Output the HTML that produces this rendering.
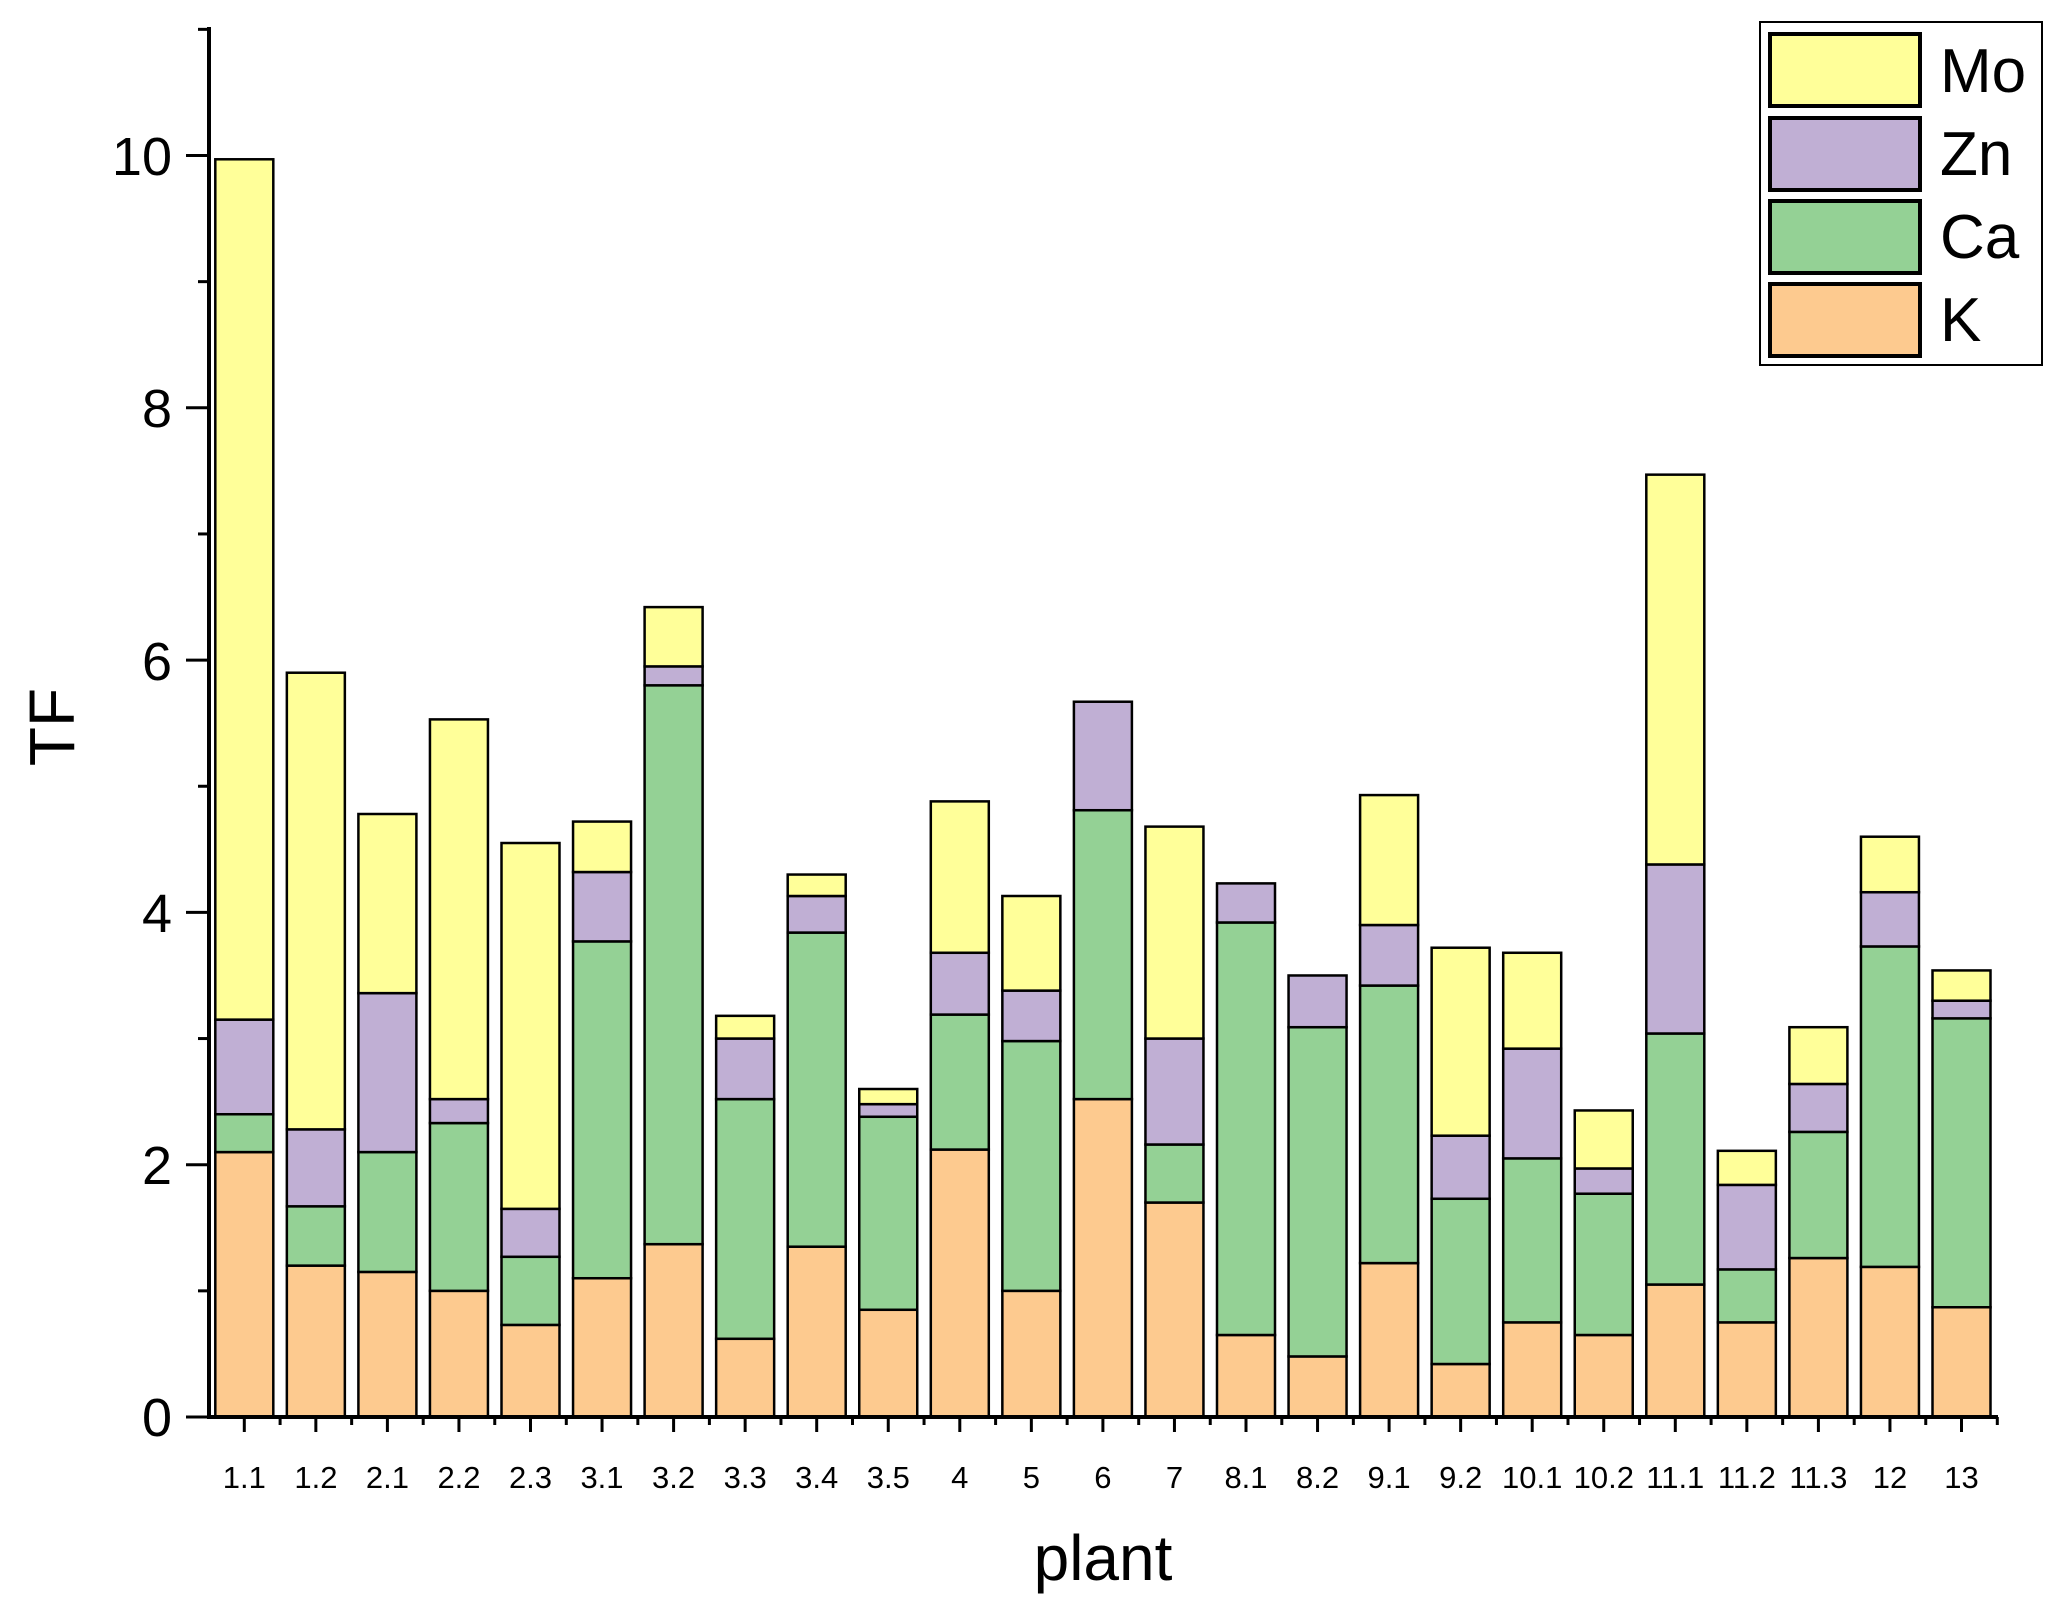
<!DOCTYPE html>
<html><head><meta charset="utf-8"><style>
body{margin:0;background:#fff}
svg{display:block}
text{font-family:"Liberation Sans",Arial,sans-serif;fill:#000}
</style></head><body>
<svg id="s" width="2071" height="1615" viewBox="0 0 2071 1615" xmlns="http://www.w3.org/2000/svg">
<g id="bars"></g>
<g id="axes" stroke="#000" stroke-width="4" fill="none">
<line x1="209" y1="27" x2="209" y2="1419"/>
<line x1="207" y1="1417" x2="1998" y2="1417"/>
</g>
<g id="ticks" stroke="#000" stroke-width="3"></g>
<g font-size="54" text-anchor="end">
<text x="172" y="1436">0</text>
<text x="172" y="1184">2</text>
<text x="172" y="932">4</text>
<text x="172" y="680">6</text>
<text x="172" y="427">8</text>
<text x="172" y="175">10</text>
</g>
<g font-size="31" text-anchor="middle">
<text x="244.3" y="1488">1.1</text><text x="315.9" y="1488">1.2</text><text x="387.4" y="1488">2.1</text><text x="459" y="1488">2.2</text><text x="530.5" y="1488">2.3</text><text x="602" y="1488">3.1</text><text x="673.6" y="1488">3.2</text><text x="745.2" y="1488">3.3</text><text x="816.7" y="1488">3.4</text><text x="888.3" y="1488">3.5</text><text x="959.8" y="1488">4</text><text x="1031.4" y="1488">5</text><text x="1102.9" y="1488">6</text><text x="1174.5" y="1488">7</text><text x="1246" y="1488">8.1</text><text x="1317.6" y="1488">8.2</text><text x="1389.1" y="1488">9.1</text><text x="1460.7" y="1488">9.2</text><text x="1532.2" y="1488">10.1</text><text x="1603.8" y="1488">10.2</text><text x="1675.3" y="1488">11.1</text><text x="1746.9" y="1488">11.2</text><text x="1818.4" y="1488">11.3</text><text x="1890" y="1488">12</text><text x="1961.5" y="1488">13</text>
</g>
<text x="1103" y="1580" font-size="64" text-anchor="middle">plant</text>
<text transform="translate(74,727) rotate(-90)" font-size="64" text-anchor="middle">TF</text>
<rect x="1760" y="22" width="282" height="343" fill="#fff" stroke="#000" stroke-width="2"/>
<rect x="1770" y="34" width="150" height="72" fill="#ffff99" stroke="#000" stroke-width="4"/>
<rect x="1770" y="118" width="150" height="72" fill="#c0afd4" stroke="#000" stroke-width="4"/>
<rect x="1770" y="201" width="150" height="72" fill="#94d195" stroke="#000" stroke-width="4"/>
<rect x="1770" y="284" width="150" height="72" fill="#fdca8f" stroke="#000" stroke-width="4"/>
<g font-size="62">
<text x="1940" y="92">Mo</text>
<text x="1940" y="175">Zn</text>
<text x="1940" y="258">Ca</text>
<text x="1940" y="341">K</text>
</g>
</svg>
<script>
var d=[[2.1,2.4,3.15,9.97],[1.2,1.67,2.28,5.9],[1.15,2.1,3.36,4.78],[1.0,2.33,2.52,5.53],[0.73,1.27,1.65,4.55],[1.1,3.77,4.32,4.72],[1.37,5.8,5.95,6.42],[0.62,2.52,3.0,3.18],[1.35,3.84,4.13,4.3],[0.85,2.38,2.48,2.6],[2.12,3.19,3.68,4.88],[1.0,2.98,3.38,4.13],[2.52,4.81,5.67,5.67],[1.7,2.16,3.0,4.68],[0.65,3.92,4.23,4.23],[0.48,3.09,3.5,3.5],[1.22,3.42,3.9,4.93],[0.42,1.73,2.23,3.72],[0.75,2.05,2.92,3.68],[0.65,1.77,1.97,2.43],[1.05,3.04,4.38,7.47],[0.75,1.17,1.84,2.11],[1.26,2.26,2.64,3.09],[1.19,3.73,4.16,4.6],[0.87,3.16,3.3,3.54]];
var c=["#fdca8f","#94d195","#c0afd4","#ffff99"];
var ns="http://www.w3.org/2000/svg",Y=function(v){return 1417-v*126.15};
var g=document.getElementById("bars"),t=document.getElementById("ticks");
function el(p,tag,a){var e=document.createElementNS(ns,tag);for(var k in a)e.setAttribute(k,a[k]);p.appendChild(e);}
d.forEach(function(r,i){var cx=244.3+i*71.55,prev=0;
r.forEach(function(v,j){if(v-prev>0.001){el(g,"rect",{x:cx-29,y:Y(v),width:58,height:Y(prev)-Y(v),fill:c[j],stroke:"#000","stroke-width":2.5});}prev=v;});
el(t,"line",{x1:cx,y1:1417,x2:cx,y2:1432});
el(t,"line",{x1:cx+35.8,y1:1417,x2:cx+35.8,y2:1425});
});
for(var v=0;v<=11;v++){el(t,"line",{x1:v%2?198:186,y1:Y(v),x2:209,y2:Y(v)});}
</script>
</body></html>
